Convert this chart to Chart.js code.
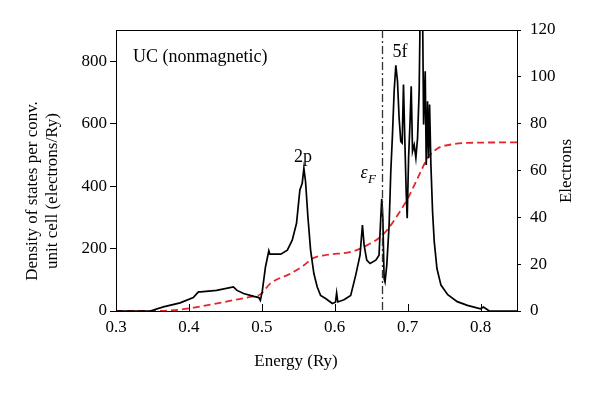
<!DOCTYPE html>
<html>
<head>
<meta charset="utf-8">
<script src="https://cdn.jsdelivr.net/npm/chart.js@4"></script>
<style>
  html, body { margin: 0; padding: 0; background: #fff; }
  #wrap { width: 600px; height: 395px; }
</style>
</head>
<body>
<div id="wrap"><canvas id="dosChart"></canvas></div>
<script>
// density of states (electrons/Ry), black curve
const dosEnergy = [0.30, 0.347, 0.365, 0.388, 0.406, 0.413, 0.416, 0.438, 0.461, 0.466, 0.475, 0.489,
  0.496, 0.498, 0.5005, 0.505, 0.5096, 0.511, 0.526, 0.535, 0.5417, 0.5476, 0.5522, 0.5554, 0.5577,
  0.560, 0.5632, 0.5669, 0.5714, 0.576, 0.5806, 0.5875, 0.5967, 0.601, 0.6026, 0.6042, 0.6127, 0.6219,
  0.6288, 0.6347, 0.638, 0.6403, 0.6439, 0.6485, 0.6563, 0.6608, 0.6631, 0.6645, 0.666, 0.6677, 0.669,
  0.6714, 0.6746, 0.6769, 0.6792, 0.6815, 0.6838, 0.6861, 0.6883, 0.6906, 0.6925, 0.6943, 0.6962,
  0.698, 0.6994, 0.7013, 0.7035, 0.7049, 0.7067, 0.709, 0.7113, 0.7136, 0.7158, 0.7172, 0.7205,
  0.7219, 0.7241, 0.7255, 0.7273, 0.7287, 0.7301, 0.7319, 0.7342, 0.7365, 0.7402, 0.7457, 0.755,
  0.768, 0.782, 0.800, 0.804, 0.807, 0.812, 0.85];
const dosValues = [0, 0, 13, 26, 43, 61, 61, 66, 77, 66, 56, 47,
  43, 34, 61, 141, 193, 182, 182, 195, 227, 281, 388, 409, 457,
  414, 302, 195, 120, 77, 50, 40, 24, 28, 58, 29, 36, 50,
  115, 179, 275, 211, 163, 152, 163, 179, 297, 359, 297, 104, 93,
  147, 275, 447, 565, 704, 787, 736, 618, 543, 538, 725, 543,
  382, 297, 490, 618, 720, 511, 532, 490, 554, 704, 960, 960,
  597, 768, 468, 672, 490, 661, 468, 318, 222, 136, 83, 52,
  30, 18, 7, 13, 8, 0, 0];

// integrated electrons, red dashed curve (right axis)
const elecEnergy = [0.30, 0.347, 0.388, 0.411, 0.461, 0.484, 0.498, 0.5115, 0.5393, 0.5577, 0.5692,
  0.5852, 0.5944, 0.622, 0.6402, 0.6677, 0.6861, 0.700, 0.7136, 0.7273, 0.741, 0.7595, 0.782, 0.85];
const elecValues = [0, 0, 0.6, 1.7, 4.6, 6.0, 7.1, 11.7, 16.0, 19.5, 22.4,
  23.8, 24.2, 25.2, 27.4, 33.1, 40.9, 48.0, 56.6, 65.2, 69.4, 71.1, 71.8, 72.0];

const xTicks = [0.3, 0.4, 0.5, 0.6, 0.7, 0.8];
const dosTicks = [0, 200, 400, 600, 800];
const elecTicks = [0, 20, 40, 60, 80, 100, 120];
const fermiEnergy = 0.665;

const serif = '"Liberation Serif", "DejaVu Serif", serif';

// tick marks pointing inward on x axis, frame, fermi line and labels
const extras = {
  id: 'extras',
  afterDatasetsDraw(chart) {
    const { ctx, chartArea: a, scales } = chart;
    const x = scales.x;
    ctx.save();
    ctx.strokeStyle = '#000';
    ctx.lineWidth = 1;
    ctx.beginPath();
    ctx.moveTo(a.left, a.top + 0.5);
    ctx.lineTo(a.right, a.top + 0.5);
    xTicks.forEach(t => {
      const px = Math.round(x.getPixelForValue(t)) + 0.5;
      ctx.moveTo(px, a.bottom);
      ctx.lineTo(px, a.bottom - 7);
    });
    ctx.stroke();

    // fermi level
    const fx = Math.round(x.getPixelForValue(fermiEnergy)) + 0.5;
    ctx.strokeStyle = '#333';
    ctx.lineWidth = 1.3;
    ctx.setLineDash([8, 3, 2, 3]);
    ctx.beginPath();
    ctx.moveTo(fx, a.top);
    ctx.lineTo(fx, a.bottom);
    ctx.stroke();
    ctx.setLineDash([]);

    ctx.fillStyle = '#000';
    ctx.textBaseline = 'middle';
    ctx.font = '18px ' + serif;
    ctx.textAlign = 'left';
    ctx.fillText('UC (nonmagnetic)', 133, 57);
    ctx.textAlign = 'center';
    ctx.fillText('2p', 303, 157);
    ctx.fillText('5f', 400, 52);
    ctx.font = 'italic 18px ' + serif;
    ctx.fillText('ε', 364, 173);
    ctx.font = 'italic 13px ' + serif;
    ctx.fillText('F', 372, 180);

    // axis titles
    ctx.font = '17px ' + serif;
    ctx.fillText('Energy (Ry)', 296, 362);
    ctx.save();
    ctx.translate(33, 191);
    ctx.rotate(-Math.PI / 2);
    ctx.fillText('Density of states per conv.', 0, 0);
    ctx.fillText('unit cell (electrons/Ry)', 0, 20);
    ctx.restore();
    ctx.save();
    ctx.translate(567, 171);
    ctx.rotate(-Math.PI / 2);
    ctx.fillText('Electrons', 0, 0);
    ctx.restore();
    ctx.restore();
  }
};

new Chart(document.getElementById('dosChart'), {
  type: 'line',
  data: {
    datasets: [{
      label: 'DOS',
      data: dosEnergy.map((e, i) => ({ x: e, y: dosValues[i] })),
      borderColor: '#000',
      borderWidth: 1.7,
      pointRadius: 0,
      tension: 0,
      yAxisID: 'y'
    }, {
      label: 'Electrons',
      data: elecEnergy.map((e, i) => ({ x: e, y: elecValues[i] })),
      borderColor: '#e3262b',
      borderWidth: 1.8,
      borderDash: [7, 4],
      pointRadius: 0,
      cubicInterpolationMode: 'monotone',
      yAxisID: 'y1'
    }]
  },
  options: {
    responsive: true,
    maintainAspectRatio: false,
    animation: false,
    layout: { padding: { top: 30 } },
    plugins: { legend: { display: false }, tooltip: { enabled: false } },
    scales: {
      x: {
        type: 'linear',
        min: 0.3,
        max: 0.85,
        afterBuildTicks: s => { s.ticks = xTicks.map(v => ({ value: v })); },
        afterFit: s => { s.height = 84; },
        grid: { display: true, drawOnChartArea: false, drawTicks: false },
        border: { color: '#000', width: 1 },
        ticks: {
          color: '#000', padding: 6, maxRotation: 0,
          font: { family: serif, size: 17 },
          callback: v => v.toFixed(1)
        }
      },
      y: {
        position: 'left',
        min: 0,
        max: 900,
        afterBuildTicks: s => { s.ticks = dosTicks.map(v => ({ value: v })); },
        afterFit: s => { s.width = 116; },
        grid: { drawOnChartArea: false, tickLength: 6, color: '#000' },
        border: { color: '#000', width: 1 },
        ticks: { color: '#000', padding: 3, font: { family: serif, size: 17 } }
      },
      y1: {
        position: 'right',
        min: 0,
        max: 120,
        afterBuildTicks: s => { s.ticks = elecTicks.map(v => ({ value: v })); },
        afterFit: s => { s.width = 83; },
        grid: { drawOnChartArea: false, tickLength: 4, color: '#000' },
        border: { color: '#000', width: 1 },
        ticks: { color: '#000', padding: 9, font: { family: serif, size: 17 } }
      }
    }
  },
  plugins: [extras]
});
</script>
</body>
</html>
